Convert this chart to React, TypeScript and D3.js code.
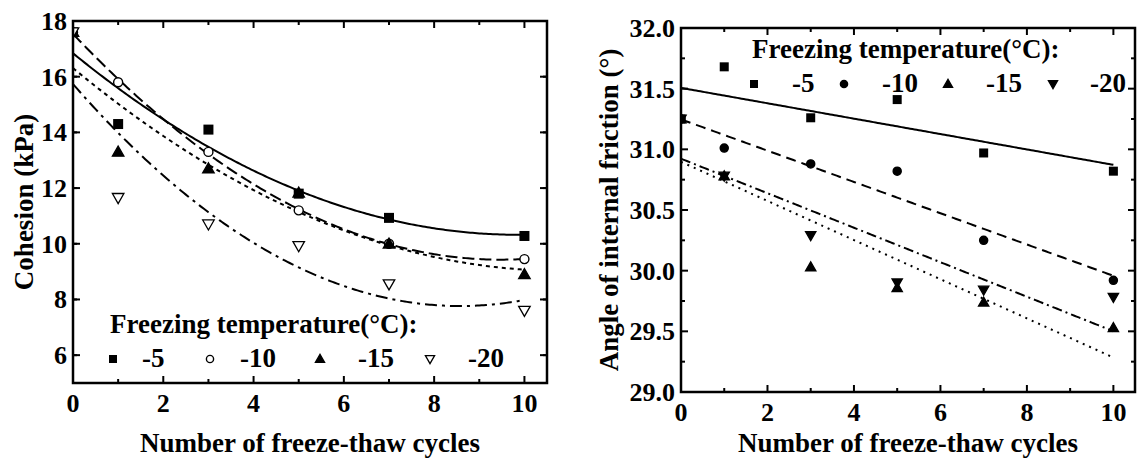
import React from 'react';
import * as d3 from 'd3';

// freeze-thaw cycles (x) shared by both panels
const cycles = [0, 1, 3, 5, 7, 10];
const temps = ['-5', '-10', '-15', '-20'];

// cohesion (kPa) by freezing temperature
const cohesionM5 = [17.6, 14.3, 14.1, 11.8, 10.93, 10.28];
const cohesionM10 = [17.6, 15.8, 13.3, 11.2, 10.0, 9.45];
const cohesionM15 = [17.6, 13.3, 12.7, 11.83, 10.0, 8.9];
const cohesionM20 = [17.6, 11.65, 10.7, 9.92, 8.55, 7.6];

// angle of internal friction (deg) by freezing temperature
const frictionM5 = [31.25, 31.68, 31.26, 31.41, 30.97, 30.82];
const frictionM10 = [31.25, 31.01, 30.88, 30.82, 30.25, 29.92];
const frictionM15 = [31.25, 30.78, 30.03, 29.86, 29.74, 29.53];
const frictionM20 = [31.25, 30.78, 30.29, 29.9, 29.84, 29.78];

const xTicks = [0, 2, 4, 6, 8, 10];
const cohesionTicks = [6, 8, 10, 12, 14, 16, 18];
const frictionTicks = [29.0, 29.5, 30.0, 30.5, 31.0, 31.5, 32.0];

const FONT = 'Liberation Serif, DejaVu Serif, serif';
const markers = ['square', 'circleOpen', 'triangle', 'triangleDownOpen'];

// least squares polynomial fit (degree 1 or 2)
function polyFit(xs: number[], ys: number[], deg: number) {
  const n = deg + 1;
  const A: number[][] = [];
  for (let i = 0; i < n; i++) {
    const row: number[] = [];
    for (let j = 0; j < n; j++) row.push(d3.sum(xs, x => Math.pow(x, i + j)));
    row.push(d3.sum(xs, (x, k) => Math.pow(x, i) * ys[k]));
    A.push(row);
  }
  for (let i = 0; i < n; i++) {
    for (let k = i + 1; k < n; k++) {
      const f = A[k][i] / A[i][i];
      for (let j = i; j <= n; j++) A[k][j] -= f * A[i][j];
    }
  }
  const c = new Array(n).fill(0);
  for (let i = n - 1; i >= 0; i--) {
    let s = A[i][n];
    for (let j = i + 1; j < n; j++) s -= A[i][j] * c[j];
    c[i] = s / A[i][i];
  }
  return (x: number) => c.reduce((acc, ci, i) => acc + ci * Math.pow(x, i), 0);
}

function Marker({ kind, x, y, s }: { kind: string; x: number; y: number; s: number }) {
  const h = s / 2;
  if (kind === 'square') return <rect x={x - h} y={y - h} width={s} height={s} fill="#000" />;
  if (kind === 'circleOpen' || kind === 'circle')
    return <circle cx={x} cy={y} r={h * 0.9} fill={kind === 'circle' ? '#000' : '#fff'} stroke="#000" strokeWidth={1.4} />;
  const t = h * 1.15;
  if (kind === 'triangle' || kind === 'triangleOpen')
    return <path d={`M${x},${y - t}L${x + t},${y + t * 0.75}L${x - t},${y + t * 0.75}Z`}
      fill={kind === 'triangle' ? '#000' : '#fff'} stroke="#000" strokeWidth={1.3} />;
  return <path d={`M${x},${y + t}L${x + t},${y - t * 0.75}L${x - t},${y - t * 0.75}Z`}
    fill={kind === 'triangleDown' ? '#000' : '#fff'} stroke="#000" strokeWidth={1.3} />;
}

type PanelProps = {
  id: string;
  left: number; right: number; top: number; bottom: number;
  yDomain: [number, number];
  yTicks: number[];
  yFormat: (v: number) => string;
  series: number[][];
  kinds: string[];
  dashes: string[];
  deg: number;
  yTitle: string;
  yTitleX: number;
  legendY: number;
  legendTitleX: number;
  legendMarkX: number[];
  legendTextX: number[];
  markSize: number;
};

function Panel(p: PanelProps) {
  const x = d3.scaleLinear().domain([0, 10.5]).range([p.left, p.right]);
  const y = d3.scaleLinear().domain(p.yDomain).range([p.bottom, p.top]);
  const xs = d3.range(0, 10.001, 0.05);
  const line = d3.line<number[]>().x(d => x(d[0])).y(d => y(d[1]));
  const minorX = d3.range(1, 10.5, 2);
  const step = p.yTicks[1] - p.yTicks[0];
  const minorY = d3.range(p.yDomain[0] + step / 2, p.yDomain[1], step);
  const allY = [...p.yTicks, p.yDomain[0]];
  const tick = { fontFamily: FONT, fontWeight: 'bold', fontSize: 26 } as const;
  const txt = { fontFamily: FONT, fontWeight: 'bold', fontSize: 27 } as const;
  return (
    <g>
      <defs>
        <clipPath id={p.id}>
          <rect x={p.left} y={p.top} width={p.right - p.left} height={p.bottom - p.top} />
        </clipPath>
      </defs>
      <g clipPath={`url(#${p.id})`}>
        {p.series.map((vals, i) => {
          const f = polyFit(cycles, vals, p.deg);
          const pts = xs.map(v => [v, f(v)]);
          return <path key={'l' + i} d={line(pts) || ''} fill="none" stroke="#000"
            strokeWidth={2} strokeDasharray={p.dashes[i]} />;
        })}
        {p.series.map((vals, i) =>
          vals.map((v, j) => <Marker key={'m' + i + '-' + j} kind={p.kinds[i]} x={x(cycles[j])} y={y(v)} s={p.markSize} />)
        )}
      </g>
      {/* frame */}
      <rect x={p.left} y={p.top} width={p.right - p.left} height={p.bottom - p.top} fill="none" stroke="#000" strokeWidth={2.5} />
      {xTicks.map(t => (
        <g key={'xt' + t}>
          <line x1={x(t)} x2={x(t)} y1={p.bottom} y2={p.bottom - 7} stroke="#000" strokeWidth={2} />
          <line x1={x(t)} x2={x(t)} y1={p.top} y2={p.top + 7} stroke="#000" strokeWidth={2} />
          <text x={x(t)} y={p.bottom + 29} textAnchor="middle" style={tick}>{t}</text>
        </g>
      ))}
      {minorX.map(t => (
        <g key={'xm' + t}>
          <line x1={x(t)} x2={x(t)} y1={p.bottom} y2={p.bottom - 4} stroke="#000" strokeWidth={2} />
          <line x1={x(t)} x2={x(t)} y1={p.top} y2={p.top + 4} stroke="#000" strokeWidth={2} />
        </g>
      ))}
      {allY.map(t => (
        <g key={'yt' + t}>
          <line x1={p.left} x2={p.left + 7} y1={y(t)} y2={y(t)} stroke="#000" strokeWidth={2} />
          <line x1={p.right} x2={p.right - 7} y1={y(t)} y2={y(t)} stroke="#000" strokeWidth={2} />
        </g>
      ))}
      {p.yTicks.map(t => (
        <text key={'yl' + t} x={p.left - 6} y={y(t) + 9} textAnchor="end" style={tick}>{p.yFormat(t)}</text>
      ))}
      {minorY.map(t => (
        <g key={'ym' + t}>
          <line x1={p.left} x2={p.left + 4} y1={y(t)} y2={y(t)} stroke="#000" strokeWidth={2} />
          <line x1={p.right} x2={p.right - 4} y1={y(t)} y2={y(t)} stroke="#000" strokeWidth={2} />
        </g>
      ))}
      <text x={(p.left + p.right) / 2} y={452} textAnchor="middle" style={txt}>
        Number of freeze-thaw cycles
      </text>
      <text transform={`translate(${p.yTitleX},${(p.top + p.bottom) / 2}) rotate(-90)`} textAnchor="middle"
        style={txt}>{p.yTitle}</text>
      {/* legend */}
      <text x={p.legendTitleX} y={p.legendY} style={txt}>Freezing temperature(°C):</text>
      {temps.map((t, i) => (
        <g key={'lg' + t}>
          <Marker kind={p.kinds[i]} x={p.legendMarkX[i]} y={p.legendY + 26} s={8} />
          <text x={p.legendTextX[i]} y={p.legendY + 34} style={txt}>{t}</text>
        </g>
      ))}
    </g>
  );
}

export default function App() {
  return (
    <svg width={1140} height={460} style={{ position: 'absolute', left: 0, top: 0, background: '#fff' }}>
      <Panel id="clipA" left={73} right={547} top={21} bottom={383}
        yDomain={[5, 18]} yTicks={cohesionTicks} yFormat={v => String(v)}
        series={[cohesionM5, cohesionM10, cohesionM15, cohesionM20]}
        kinds={markers}
        dashes={['', '12,5', '4,4', '12,5,3,5']}
        deg={2} yTitle="Cohesion (kPa)" yTitleX={33}
        legendY={333} legendTitleX={110}
        legendMarkX={[113, 210, 320, 430]} legendTextX={[142, 240, 358, 468]}
        markSize={10} />
      <Panel id="clipB" left={681} right={1135} top={28} bottom={392}
        yDomain={[29, 32]} yTicks={frictionTicks} yFormat={v => v.toFixed(1)}
        series={[frictionM5, frictionM10, frictionM15, frictionM20]}
        kinds={['square', 'circle', 'triangle', 'triangleDown']}
        dashes={['', '10,6', '2,5', '10,4,2,4']}
        deg={1} yTitle="Angle of internal friction (°)" yTitleX={618}
        legendY={58} legendTitleX={752}
        legendMarkX={[754, 844, 948, 1053]} legendTextX={[792, 882, 986, 1090]}
        markSize={9} />
    </svg>
  );
}
